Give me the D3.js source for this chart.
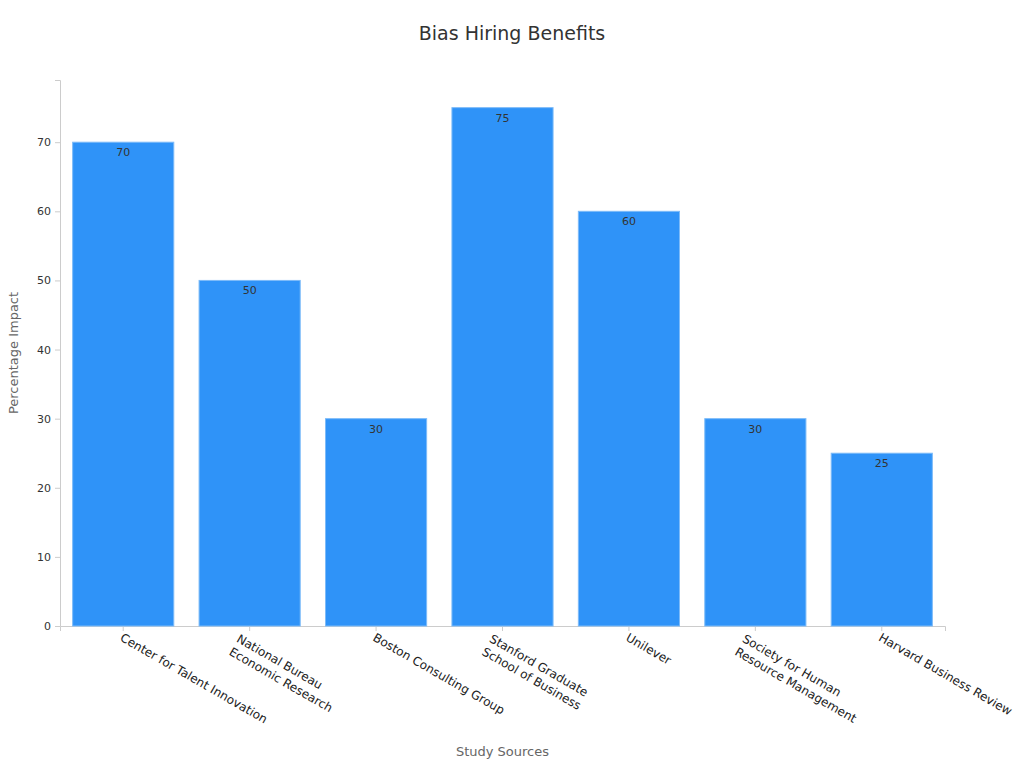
<!DOCTYPE html>
<html>
<head>
<meta charset="utf-8">
<script src="https://cdn.jsdelivr.net/npm/d3@7"></script>
<style>
  body { margin: 0; background: #fff; font-family: "DejaVu Sans", sans-serif; }
</style>
</head>
<body>
<div id="chart"></div>
<script>
// Bias hiring benefits bar chart

const sources = [
    ["Center for Talent Innovation"],
    ["National Bureau", "Economic Research"],
    ["Boston Consulting Group"],
    ["Stanford Graduate", "School of Business"],
    ["Unilever"],
    ["Society for Human", "Resource Management"],
    ["Harvard Business Review"]
];
const impact = [70, 50, 30, 75, 60, 30, 25];
const yTicks = [0, 10, 20, 30, 40, 50, 60, 70];

const width = 1024, height = 768;
const margin = { top: 80, right: 79, bottom: 142, left: 60 };

const svg = d3.select('#chart').append('svg')
    .attr('width', width)
    .attr('height', height);

const x = d3.scaleBand()
    .domain(sources.map((d, i) => i))
    .range([margin.left, width - margin.right])
    .paddingInner(0.2)
    .paddingOuter(0.1);

const y = d3.scaleLinear()
    .domain([0, 79])
    .range([height - margin.bottom, margin.top]);

svg.append('text')
    .attr('x', width / 2).attr('y', 40)
    .attr('text-anchor', 'middle')
    .attr('font-size', 19).attr('fill', '#333')
    .text('Bias Hiring Benefits');

// axes
const yAxis = svg.append('g')
    .attr('transform', `translate(${margin.left},0)`)
    .call(d3.axisLeft(y).tickValues(yTicks).tickSize(5).tickPadding(4));
yAxis.select('.domain').attr('stroke', '#ccc');
yAxis.selectAll('.tick line').attr('stroke', '#ccc');
yAxis.selectAll('text').attr('font-size', 11).attr('fill', '#333')
    .attr('font-family', '"DejaVu Sans", sans-serif');

const xAxis = svg.append('g')
    .attr('transform', `translate(0,${height - margin.bottom})`)
    .call(d3.axisBottom(x).tickSize(5).tickFormat(''));
xAxis.select('.domain').attr('stroke', '#ccc');
xAxis.selectAll('.tick line').attr('stroke', '#ccc');

xAxis.selectAll('.tick').each(function (d) {
    const t = d3.select(this).append('text')
        .attr('transform', 'translate(-4,14) rotate(30)')
        .attr('text-anchor', 'start')
        .attr('font-size', 12).attr('fill', '#222')
        .attr('font-family', '"DejaVu Sans", sans-serif');
    const lines = sources[d];
    lines.forEach((l, j) => {
        t.append('tspan')
            .attr('x', 0)
            .attr('dy', j === 0 ? (lines.length > 1 ? -6 : 0) : 15)
            .text(l);
    });
    if (lines.length > 1) t.attr('transform', 'translate(-4,14) rotate(30) translate(-8,12)');
});

// bars
svg.append('g').selectAll('rect')
    .data(impact)
    .join('rect')
    .attr('x', (d, i) => x(i))
    .attr('y', d => y(d))
    .attr('width', x.bandwidth())
    .attr('height', d => y(0) - y(d))
    .attr('fill', '#2f93f8')
    .attr('stroke', '#7dbbf9')
    .attr('stroke-width', 1);

svg.append('g').selectAll('text')
    .data(impact)
    .join('text')
    .attr('x', (d, i) => x(i) + x.bandwidth() / 2)
    .attr('y', d => y(d) + 14)
    .attr('text-anchor', 'middle')
    .attr('font-size', 11).attr('fill', '#333')
    .text(d => d);

// axis titles
svg.append('text')
    .attr('x', (margin.left + width - margin.right) / 2).attr('y', 756)
    .attr('text-anchor', 'middle')
    .attr('font-size', 13).attr('fill', '#666')
    .text('Study Sources');

svg.append('text')
    .attr('transform', `translate(18,${(margin.top + height - margin.bottom) / 2}) rotate(-90)`)
    .attr('text-anchor', 'middle')
    .attr('font-size', 13).attr('fill', '#666')
    .text('Percentage Impact');
</script>
</body>
</html>
